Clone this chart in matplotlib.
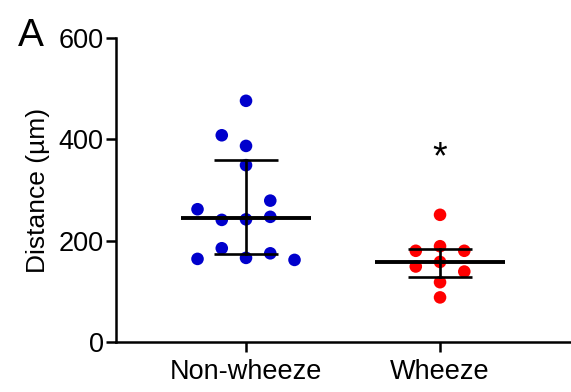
import numpy as np
import matplotlib
matplotlib.use("Agg")
import matplotlib.pyplot as plt

plt.rcParams['font.family'] = ['Liberation Sans', 'DejaVu Sans']

groups = ["Non-wheeze", "Wheeze"]
nonwheeze = [476, 408, 387, 349, 279, 262, 241, 242, 247, 185, 164, 166, 175, 162]
nonwheeze_slot = [0, -1, 0, 0, 1, -2, -1, 0, 1, -1, -2, 0, 1, 2]
wheeze = [251, 189, 180, 180, 158, 149, 139, 118, 88]
wheeze_slot = [0, 0, -1, 1, 0, -1, 1, 0, 0]
colors = ["#0000CC", "#FF0000"]
yticks = [0, 200, 400, 600]
ylabel = "Distance (µm)"
sig_mark = "*"
sig_y = 343

fig = plt.figure(figsize=(5.71, 3.92), dpi=100)
ax = fig.add_axes([0.2032, 0.1276, 0.7968, 0.7755])

slot_w = 0.125
for i, (vals, slots, c) in enumerate(zip([nonwheeze, wheeze], [nonwheeze_slot, wheeze_slot], colors)):
    vals = np.array(vals, float)
    x = i + np.array(slots) * slot_w
    ax.scatter(x, vals, s=82, color=c, edgecolors='none', zorder=3)
    med = np.median(vals)
    q1, q3 = np.percentile(vals, [25, 75], method='weibull')
    ax.plot([i - 0.335, i + 0.335], [med, med], color='black', lw=2.8, zorder=4, solid_capstyle='butt')
    ax.plot([i - 0.167, i + 0.167], [q1, q1], color='black', lw=1.9, zorder=4, solid_capstyle='butt')
    ax.plot([i - 0.167, i + 0.167], [q3, q3], color='black', lw=1.9, zorder=4, solid_capstyle='butt')
    ax.plot([i, i], [q1, q3], color='black', lw=1.9, zorder=4)

ax.text(1, sig_y, sig_mark, ha='center', va='baseline', fontsize=27, color='black')

ax.set_xlim(-0.67, 1.675)
ax.set_ylim(0, 600)
ax.set_yticks(yticks)
ax.set_xticks([0, 1])
ax.set_xticklabels(groups)
ax.set_ylabel(ylabel, fontsize=19, labelpad=6)
ax.tick_params(axis='both', labelsize=19.5, width=1.8, length=7, color='black')
ax.tick_params(axis='y', pad=2)
ax.tick_params(axis='x', pad=5)
for s in ['top', 'right']:
    ax.spines[s].set_visible(False)
for s in ['left', 'bottom']:
    ax.spines[s].set_linewidth(1.8)

fig.text(0.032, 0.955, "A", fontsize=28, ha='left', va='top')

fig.savefig("out.png", dpi=100)
